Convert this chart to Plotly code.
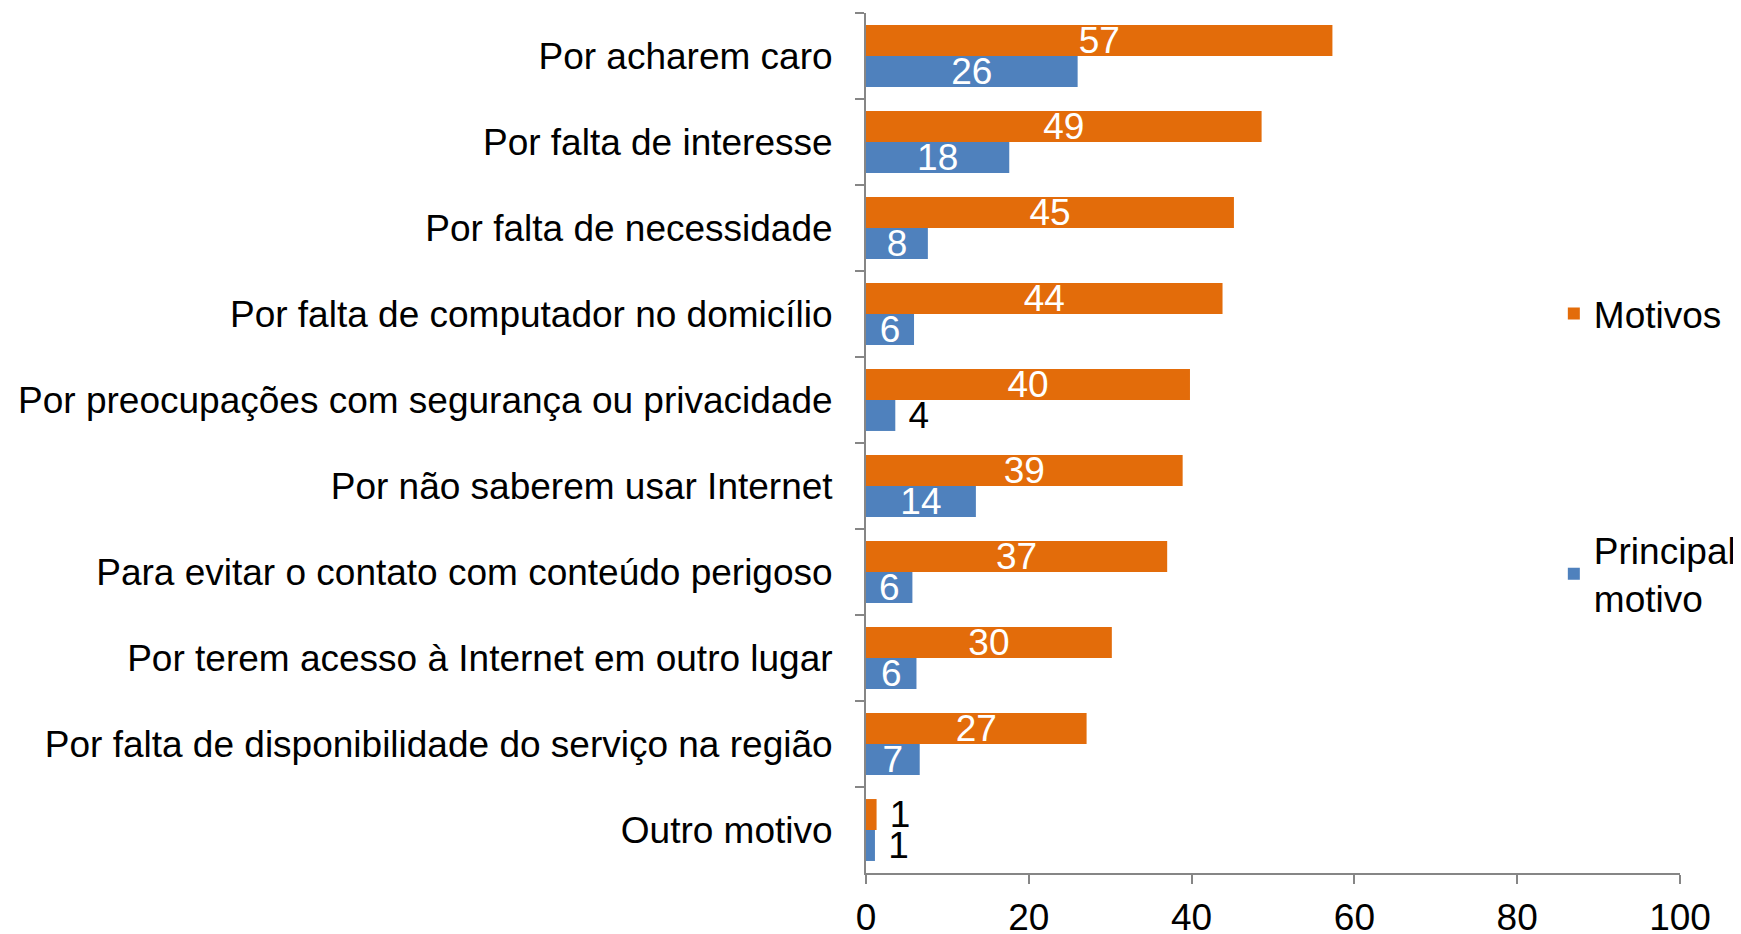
import plotly.graph_objects as go

categories = [
    "Por acharem caro",
    "Por falta de interesse",
    "Por falta de necessidade",
    "Por falta de computador no domicílio",
    "Por preocupações com segurança ou privacidade",
    "Por não saberem usar Internet",
    "Para evitar o contato com conteúdo perigoso",
    "Por terem acesso à Internet em outro lugar",
    "Por falta de disponibilidade do serviço na região",
    "Outro motivo",
]
motivos = [57.3, 48.6, 45.2, 43.8, 39.8, 38.9, 37.0, 30.2, 27.1, 1.3]
principal = [26.0, 17.6, 7.6, 5.9, 3.6, 13.5, 5.7, 6.2, 6.6, 1.1]
motivos_labels = ["57", "49", "45", "44", "40", "39", "37", "30", "27", "1"]
principal_labels = ["26", "18", "8", "6", "4", "14", "6", "6", "7", "1"]

ORANGE = "#E36C0A"
BLUE = "#4F81BD"
FONT = "Liberation Sans, Arial, sans-serif"
FS = 37


def positions(vals):
    return ["outside" if v < 5 else "inside" for v in vals]


def labels(vals, labs):
    return [("\u00a0" + t) if v < 5 else t for v, t in zip(vals, labs)]


fig = go.Figure()
fig.add_trace(go.Bar(
    y=categories, x=motivos, orientation="h", name="Motivos",
    marker=dict(color=ORANGE, line=dict(width=0)),
    text=labels(motivos, motivos_labels), textposition=positions(motivos),
    textangle=0,
    insidetextanchor="middle", constraintext="none",
    insidetextfont=dict(color="white", size=FS, family=FONT),
    outsidetextfont=dict(color="black", size=FS, family=FONT),
    cliponaxis=False, legendgroup="a",
))
fig.add_trace(go.Bar(
    y=categories, x=principal, orientation="h", name="Principal<br>motivo",
    marker=dict(color=BLUE, line=dict(width=0)),
    text=labels(principal, principal_labels), textposition=positions(principal),
    textangle=0,
    insidetextanchor="middle", constraintext="none",
    insidetextfont=dict(color="white", size=FS, family=FONT),
    outsidetextfont=dict(color="black", size=FS, family=FONT),
    cliponaxis=False, legendgroup="b",
))

fig.update_layout(
    width=1733, height=926,
    barmode="group", bargap=0.28, bargroupgap=0,
    plot_bgcolor="white", paper_bgcolor="white",
    font=dict(family=FONT, size=FS, color="black"),
    margin=dict(l=858, r=61, t=5, b=61, autoexpand=False),
    showlegend=True,
    legend=dict(
        x=0.845, y=0.686, xanchor="left", yanchor="top",
        traceorder="grouped", tracegroupgap=185,
        font=dict(size=FS, family=FONT, color="black"),
        bgcolor="rgba(0,0,0,0)", itemwidth=30,
    ),
    xaxis=dict(
        range=[0, 100], tickvals=[0, 20, 40, 60, 80, 100],
        showgrid=False, zeroline=False, automargin=False,
        showline=True, linecolor="#868686", linewidth=2,
        ticks="outside", ticklen=9, tickcolor="#868686", tickwidth=2,
        tickfont=dict(size=FS, family=FONT), ticklabelstandoff=2,
    ),
    yaxis=dict(
        autorange="reversed", type="category", automargin=False,
        showgrid=False, zeroline=False,
        showline=True, linecolor="#868686", linewidth=2,
        ticks="outside", ticklen=9, tickcolor="#868686", tickwidth=2,
        tickson="boundaries", ticklabelstandoff=24,
        tickfont=dict(size=FS, family=FONT),
    ),
)

fig.write_html("out.html")
